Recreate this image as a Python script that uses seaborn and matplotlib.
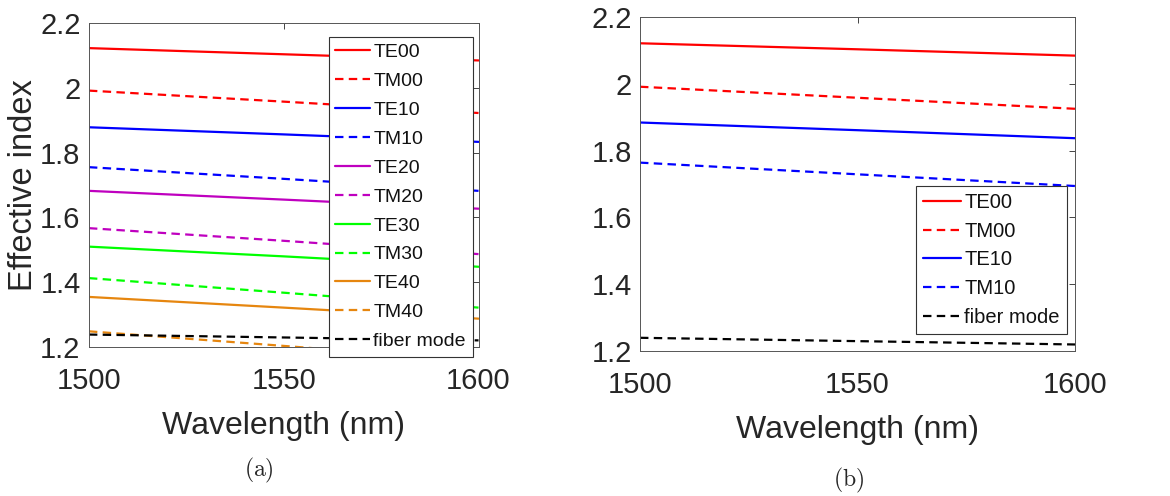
import numpy as np
import pandas as pd
import matplotlib
matplotlib.use("Agg")
import matplotlib.pyplot as plt
import seaborn as sns
from matplotlib.ticker import FuncFormatter

# wavelength samples (nm)
wavelength = [1500, 1550, 1600]

# panel (a) effective indices
te00_a = [2.122, 2.103, 2.084]
tm00_a = [1.991, 1.957, 1.922]
te10_a = [1.878, 1.856, 1.833]
tm10_a = [1.755, 1.719, 1.682]
te20_a = [1.682, 1.655, 1.627]
tm20_a = [1.567, 1.528, 1.487]
te30_a = [1.510, 1.480, 1.448]
tm30_a = [1.413, 1.368, 1.322]
te40_a = [1.355, 1.322, 1.288]
tm40_a = [1.249, 1.204, 1.158]
fiber_a = [1.239, 1.230, 1.221]

# panel (b) effective indices
te00_b = [2.121, 2.103, 2.084]
tm00_b = [1.991, 1.958, 1.925]
te10_b = [1.884, 1.861, 1.837]
tm10_b = [1.764, 1.729, 1.694]
fiber_b = [1.240, 1.230, 1.220]

labels_a = ["TE00", "TM00", "TE10", "TM10", "TE20", "TM20",
            "TE30", "TM30", "TE40", "TM40", "fiber mode"]
series_a = [te00_a, tm00_a, te10_a, tm10_a, te20_a, tm20_a,
            te30_a, tm30_a, te40_a, tm40_a, fiber_a]
labels_b = ["TE00", "TM00", "TE10", "TM10", "fiber mode"]
series_b = [te00_b, tm00_b, te10_b, tm10_b, fiber_b]

mode_colors = {
    "TE00": "#ff0000", "TM00": "#ff0000",
    "TE10": "#0000ff", "TM10": "#0000ff",
    "TE20": "#bf00bf", "TM20": "#bf00bf",
    "TE30": "#00ff00", "TM30": "#00ff00",
    "TE40": "#e6860f", "TM40": "#e6860f",
    "fiber mode": "#000000",
}

sns.set_theme(style="white")
plt.rcParams["font.family"] = ["Liberation Sans", "DejaVu Sans"]
plt.rcParams["mathtext.fontset"] = "cm"
text_color = "#262626"


def draw_panel(ax, labels, series):
    for name, vals in zip(labels, series):
        dashed = name.startswith("TM") or name == "fiber mode"
        sns.lineplot(
            x=wavelength, y=vals, ax=ax, color=mode_colors[name],
            lw=1.6, label=name,
            dashes=False,
            linestyle=(0, (3.8, 2.4)) if dashed else "-",
        )
    ax.set_xlim(1500, 1600)
    ax.set_ylim(1.2, 2.2)
    ax.set_xticks([1500, 1550, 1600])
    ax.set_yticks([1.2, 1.4, 1.6, 1.8, 2.0, 2.2])
    ax.yaxis.set_major_formatter(FuncFormatter(lambda v, p: f"{v:g}"))
    ax.tick_params(direction="in", length=4, width=0.6, color=text_color,
                   top=True, right=True, labelsize=21, labelcolor=text_color)
    ax.tick_params(axis="x", pad=14)
    ax.tick_params(axis="y", pad=6)
    for s in ax.spines.values():
        s.set_visible(True)
        s.set_color("#555555")
        s.set_linewidth(0.7)
    ax.set_xlabel("Wavelength (nm)", fontsize=23, color=text_color, labelpad=12)


fig = plt.figure(figsize=(11.7, 4.96), dpi=100)
ax_a = fig.add_axes([0.076, 0.30, 0.333, 0.654])
ax_b = fig.add_axes([0.547, 0.292, 0.372, 0.674])

draw_panel(ax_a, labels_a, series_a)
draw_panel(ax_b, labels_b, series_b)

ax_a.set_ylabel("Effective index", fontsize=23.5, color=text_color, labelpad=1)
ax_b.set_ylabel("")

leg_kw = dict(frameon=True, fancybox=False, framealpha=1,
              edgecolor="#333333", handletextpad=0.15,
              borderpad=0.35, borderaxespad=0)
leg_a = ax_a.legend(loc="upper left", bbox_to_anchor=(0.615, 0.957),
                    fontsize=14, handlelength=1.8, labelspacing=0.58, **leg_kw)
leg_b = ax_b.legend(loc="upper left", bbox_to_anchor=(0.634, 0.494),
                    fontsize=14.5, handlelength=1.9, labelspacing=0.48, **leg_kw)
for leg in (leg_a, leg_b):
    leg.get_frame().set_linewidth(0.8)
    for t in leg.get_texts():
        t.set_color("#111111")

fig.text(0.221, 0.052, r"$\mathrm{(a)}$", fontsize=17, ha="center", va="center")
fig.text(0.725, 0.032, r"$\mathrm{(b)}$", fontsize=17, ha="center", va="center")

fig.savefig("out.png", dpi=100)
